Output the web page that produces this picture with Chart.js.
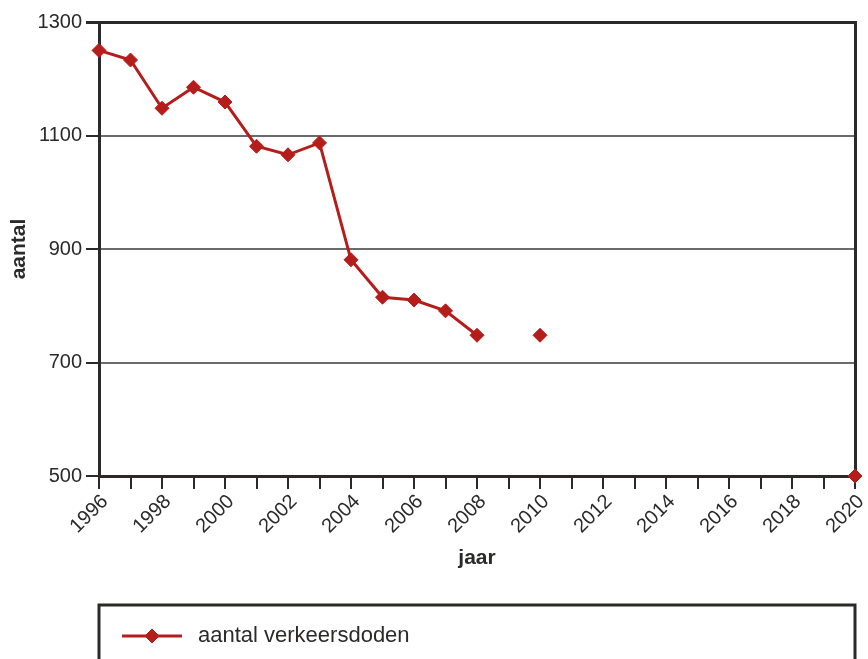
<!DOCTYPE html>
<html>
<head>
<meta charset="utf-8">
<script src="https://cdn.jsdelivr.net/npm/chart.js@4/dist/chart.umd.min.js"></script>
<style>
  html, body { margin: 0; padding: 0; background: #fff; }
  #wrap { width: 868px; height: 659px; }
</style>
</head>
<body>
<div id="wrap"><canvas id="verkeerChart"></canvas></div>
<script>
// jaren op de x-as, label alleen bij even jaren
const jaren = ['1996','1997','1998','1999','2000','2001','2002','2003','2004','2005','2006','2007','2008','2009','2010',
  '2011','2012','2013','2014','2015','2016','2017','2018','2019','2020'];
// aantal verkeersdoden per jaar (null = geen waarde)
const verkeersdoden = [1250, 1233, 1148, 1185, 1159, 1081, 1066, 1087, 881, 815, 810, 791, 748, null, 748,
  null, null, null, null, null, null, null, null, null, 500];
const yTicks = [500, 700, 900, 1100, 1300];

const dark = '#2b2a29';
const red = '#b51d1b';
const fontFam = '"Liberation Sans", Arial, Helvetica, sans-serif';

// legend in a box under the chart
const legendBox = {
  id: 'legendBox',
  afterDraw(chart) {
    const c = chart.ctx;
    const ds = chart.data.datasets[0];
    const left = chart.chartArea.left;
    const right = chart.chartArea.right;
    const top = chart.height - 54;
    c.save();
    c.strokeStyle = dark;
    c.lineWidth = 3;
    c.beginPath();
    c.moveTo(left, chart.height + 5);
    c.lineTo(left, top);
    c.lineTo(right, top);
    c.lineTo(right, chart.height + 5);
    c.stroke();
    const cy = top + 31;
    c.strokeStyle = ds.borderColor;
    c.lineWidth = ds.borderWidth;
    c.beginPath();
    c.moveTo(left + 23, cy);
    c.lineTo(left + 83, cy);
    c.stroke();
    c.fillStyle = ds.pointBackgroundColor;
    c.strokeStyle = ds.pointBorderColor;
    c.lineWidth = 1;
    Chart.helpers.drawPoint(c, { pointStyle: 'rectRot', radius: ds.pointRadius, borderWidth: 1 }, left + 53, cy);
    c.fillStyle = dark;
    c.font = '22px ' + fontFam;
    c.textBaseline = 'middle';
    c.fillText(ds.label, left + 99, cy);
    c.restore();
  }
};

new Chart(document.getElementById('verkeerChart'), {
  type: 'line',
  data: {
    labels: jaren,
    datasets: [{
      label: 'aantal verkeersdoden',
      data: verkeersdoden,
      borderColor: red,
      borderWidth: 3,
      pointStyle: 'rectRot',
      pointRadius: 7,
      pointBackgroundColor: red,
      pointBorderColor: red,
      pointBorderWidth: 1,
      spanGaps: false,
      tension: 0,
      clip: false
    }]
  },
  options: {
    responsive: true,
    maintainAspectRatio: false,
    animation: false,
    layout: { padding: { left: 0, right: 13, top: 22, bottom: 88 } },
    plugins: {
      legend: { display: false },
      tooltip: { enabled: false }
    },
    scales: {
      x: {
        offset: false,
        grid: { drawOnChartArea: false, drawTicks: true, tickLength: 13, tickColor: dark, lineWidth: 2 },
        border: { display: true, color: dark, width: 3 },
        ticks: {
          autoSkip: false,
          maxRotation: 45,
          minRotation: 45,
          padding: 1,
          labelOffset: 6,
          color: dark,
          font: { family: fontFam, size: 20 },
          callback: function (val, i) {
            const j = jaren[i];
            return (+j % 2 === 0) ? j : '';
          }
        },
        title: {
          display: true,
          text: 'jaar',
          color: dark,
          font: { family: fontFam, size: 21, weight: 'bold' },
          padding: { top: 0, bottom: 0 }
        },
        afterFit(scale) {
          scale.height = 95;
          scale.paddingLeft = 0;
          scale.paddingRight = 0;
        }
      },
      y: {
        min: 500,
        max: 1300,
        afterBuildTicks(scale) { scale.ticks = yTicks.map(v => ({ value: v })); },
        grid: {
          color: ctx => (ctx.tick && ctx.tick.value === 1300) ? dark : '#6b6b6b',
          lineWidth: ctx => (ctx.tick && ctx.tick.value === 1300) ? 3 : 2,
          tickColor: dark,
          tickLength: 13,
          drawTicks: true
        },
        border: { display: true, color: dark, width: 3 },
        ticks: {
          padding: 4,
          color: dark,
          font: { family: fontFam, size: 20 },
          callback: v => String(v)
        },
        title: {
          display: true,
          text: 'aantal',
          color: dark,
          font: { family: fontFam, size: 21, weight: 'bold' },
          padding: { top: 7, bottom: 0 }
        },
        afterFit(scale) {
          scale.width = 99;
          scale.paddingTop = 0;
          scale.paddingBottom = 0;
        }
      },
      yRight: {
        position: 'right',
        min: 500,
        max: 1300,
        grid: { display: false },
        ticks: { display: false },
        border: { display: true, color: dark, width: 3 },
        afterFit(scale) { scale.width = 0; }
      }
    }
  },
  plugins: [legendBox]
});
</script>
</body>
</html>
